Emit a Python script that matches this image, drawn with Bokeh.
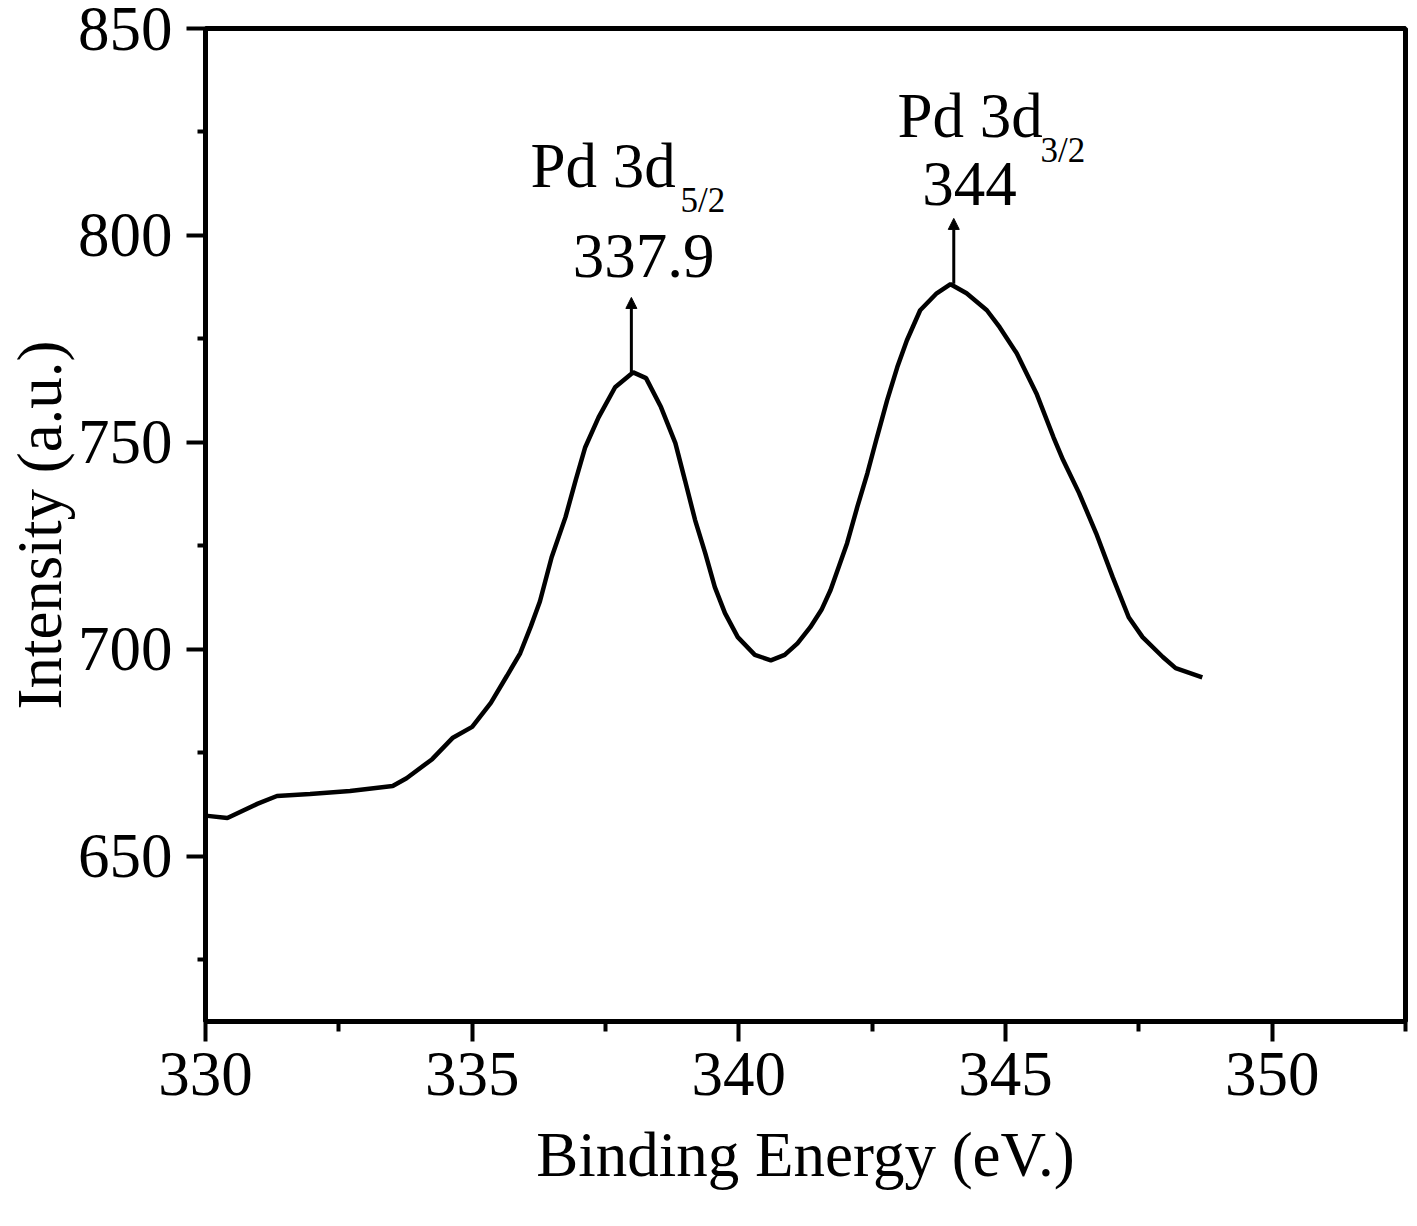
from bokeh.plotting import figure
from bokeh.models import FixedTicker, Arrow, NormalHead, Range1d, ColumnDataSource, Title
from bokeh.core.properties import value
from bokeh.embed import file_html
from bokeh.resources import INLINE

# ---- data ----
binding_energy = [330.04, 330.41, 330.97, 331.34, 331.96, 332.71, 333.51, 333.77, 334.25, 334.63,
                  335.0, 335.35, 335.65, 335.9, 336.1, 336.27, 336.49, 336.75, 336.94, 337.12,
                  337.37, 337.68, 338.02, 338.26, 338.54, 338.81, 338.99, 339.18, 339.37, 339.55,
                  339.74, 339.98, 340.30, 340.60, 340.86, 341.10, 341.34, 341.55, 341.72, 342.03,
                  342.22, 342.41, 342.59, 342.78, 342.97, 343.15, 343.40, 343.71, 343.97, 344.27,
                  344.65, 344.89, 345.21, 345.58, 345.90, 346.08, 346.38, 346.70, 347.01, 347.31,
                  347.57, 347.95, 348.19, 348.69]
intensity = [659.7, 659.2, 662.6, 664.5, 665.0, 665.7, 666.9, 668.8, 673.4, 678.5,
             681.2, 687.0, 693.5, 699.0, 705.5, 711.5, 722.2, 731.9, 740.8, 748.8,
             756.0, 763.3, 766.9, 765.5, 758.5, 749.8, 740.8, 731.2, 723.2, 715.0,
             708.7, 702.9, 698.6, 697.3, 698.6, 701.4, 705.3, 709.5, 714.3, 725.6,
             734.3, 742.5, 751.2, 760.1, 768.1, 774.6, 781.9, 786.0, 788.2, 786.0,
             781.9, 777.8, 771.5, 761.8, 751.2, 745.7, 737.7, 728.0, 717.4, 707.7,
             702.9, 698.1, 695.4, 693.2]

peak_x = [337.985, 344.03]
peak_y = [767.0, 788.3]
arrow_top_y = [785.0, 804.1]
peak_names = ["Pd 3d", "Pd 3d"]
peak_subs = ["5/2", "3/2"]
peak_values = ["337.9", "344"]

x_major_ticks = [330, 335, 340, 345, 350]
x_minor_ticks = [332.5, 337.5, 342.5, 347.5, 352.5]
y_major_ticks = [650, 700, 750, 800, 850]
y_minor_ticks = [625, 675, 725, 775, 825]

x_title = "Binding Energy (eV.)"
y_title = "Intensity (a.u.)"

# label placement (layout, data coordinates)
name_pos_x = [336.094, 342.975]
name_pos_y = [816.80, 828.89]
sub_pos_x = [338.907, 345.657]
sub_pos_y = [808.35, 820.43]
val_pos_x = [338.213, 344.326]
val_pos_y = [795.05, 812.45]

FONT = "Liberation Serif"

p = figure(width=1409, height=1218,
           x_range=Range1d(330, 352.5), y_range=Range1d(610, 850),
           output_backend="svg", toolbar_location=None,
           min_border_left=205, min_border_right=4, min_border_top=28, min_border_bottom=197)
p.grid.visible = False
p.background_fill_color = "white"
p.border_fill_color = "white"
p.outline_line_color = "black"
p.outline_line_width = 5
p.outline_line_alpha = 1.0

p.xaxis.ticker = FixedTicker(ticks=x_major_ticks, minor_ticks=x_minor_ticks)
p.yaxis.ticker = FixedTicker(ticks=y_major_ticks, minor_ticks=y_minor_ticks)

for ax in (p.xaxis, p.yaxis):
    ax.axis_line_width = 4.5
    ax.axis_line_color = "black"
    ax.major_tick_line_width = 4
    ax.minor_tick_line_width = 4
    ax.major_tick_line_color = "black"
    ax.minor_tick_line_color = "black"
    ax.major_tick_in = 0
    ax.minor_tick_in = 0
    ax.major_label_text_font = FONT
    ax.major_label_text_font_size = "63px"
    ax.major_label_text_color = "black"

p.xaxis.major_tick_out = 20
p.xaxis.minor_tick_out = 10
p.yaxis.major_tick_out = 19
p.yaxis.minor_tick_out = 8
p.xaxis.major_label_standoff = 11
p.yaxis.major_label_standoff = 14

# axis titles as side-panel titles
p.add_layout(Title(text=x_title, text_font=FONT, text_font_size="63px", text_font_style="normal",
                   text_color="black", align="center", standoff=40, offset=31,
                   text_line_height=0.6), "below")
p.add_layout(Title(text=y_title, text_font=FONT, text_font_size="63px", text_font_style="normal",
                   text_color="black", align="center", standoff=0,
                   text_line_height=0.6), "left")

p.line(binding_energy, intensity, line_color="black", line_width=4.5)

for i in range(len(peak_x)):
    p.add_layout(Arrow(end=NormalHead(size=11, fill_color="black", line_color="black", line_width=1),
                       x_start=peak_x[i], y_start=peak_y[i], x_end=peak_x[i], y_end=arrow_top_y[i],
                       line_color="black", line_width=3))

src_name = ColumnDataSource(dict(x=name_pos_x, y=name_pos_y, t=peak_names))
src_sub = ColumnDataSource(dict(x=sub_pos_x, y=sub_pos_y, t=peak_subs))
src_val = ColumnDataSource(dict(x=val_pos_x, y=val_pos_y, t=peak_values))

p.text(x="x", y="y", text="t", source=src_name, text_font=value(FONT), text_font_size=value("63px"),
       text_align="left", text_baseline="alphabetic", text_color="black")
p.text(x="x", y="y", text="t", source=src_sub, text_font=value(FONT), text_font_size=value("35px"),
       text_align="left", text_baseline="alphabetic", text_color="black")
p.text(x="x", y="y", text="t", source=src_val, text_font=value(FONT), text_font_size=value("63px"),
       text_align="center", text_baseline="alphabetic", text_color="black")

open("out.html", "w").write(file_html(p, INLINE))
